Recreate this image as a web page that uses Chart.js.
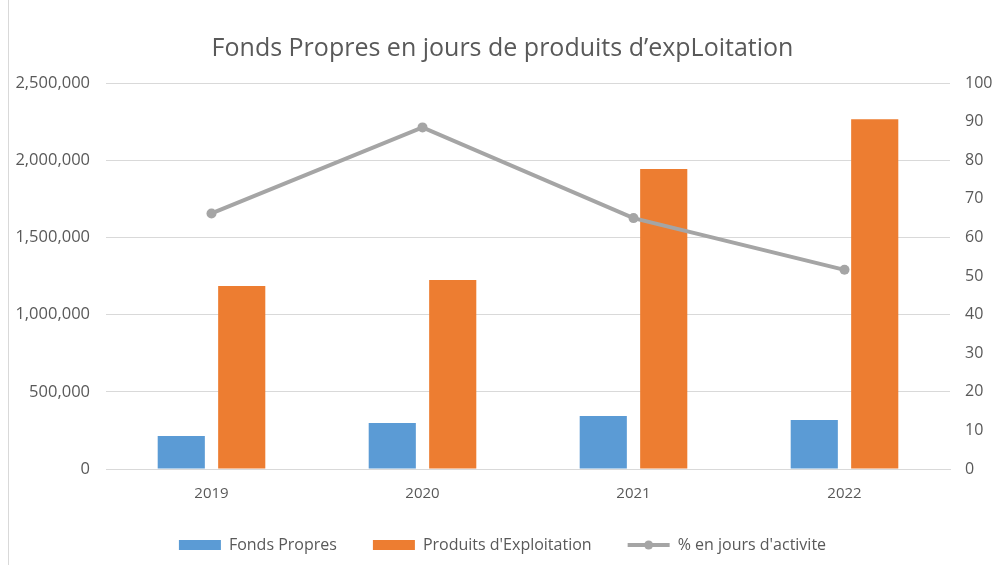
<!DOCTYPE html>
<html>
<head>
<meta charset="utf-8">
<script src="https://cdn.jsdelivr.net/npm/chart.js@4"></script>
<style>
  html, body { margin: 0; padding: 0; background: #fff; }
  #wrap { position: relative; width: 995px; height: 565px; }
  #edge { position: absolute; left: 8px; top: 0; width: 1px; height: 565px; background: #d9d9d9; }
</style>
</head>
<body>
<div id="wrap">
  <div id="edge"></div>
  <canvas id="chart" width="995" height="565"></canvas>
</div>
<script>
const years = ["2019", "2020", "2021", "2022"];
const fondsPropres = [214000, 298000, 343000, 318000];
const produitsExploitation = [1185000, 1224000, 1943000, 2265000];
const joursActivite = [66.2, 88.5, 65.0, 51.6];

const grey = "#595959";
const lineGrey = "#a5a5a5";
const font = "'Open Sans', sans-serif";

Chart.defaults.font.family = font;
Chart.defaults.color = grey;

// little dot on the line legend entry, like the Excel legend
const legendDot = {
    id: "legendDot",
    afterDraw(chart) {
        const lg = chart.legend;
        if (!lg || !lg.legendHitBoxes) return;
        const box = lg.legendHitBoxes[2];
        if (!box) return;
        const ctx = chart.ctx;
        ctx.save();
        ctx.fillStyle = lineGrey;
        ctx.beginPath();
        ctx.arc(box.left + 21, box.top + box.height / 2, 4.5, 0, Math.PI * 2);
        ctx.fill();
        ctx.restore();
    }
};

new Chart(document.getElementById("chart"), {
    type: "bar",
    data: {
        labels: years,
        datasets: [
            {
                label: "Fonds Propres",
                data: fondsPropres,
                backgroundColor: "#5b9bd5",
                pointStyle: "rect",
                yAxisID: "y",
                order: 2
            },
            {
                label: "Produits d'Exploitation",
                data: produitsExploitation,
                backgroundColor: "#ed7d31",
                pointStyle: "rect",
                yAxisID: "y",
                order: 2
            },
            {
                type: "line",
                label: "% en jours d'activite",
                data: joursActivite,
                borderColor: lineGrey,
                backgroundColor: lineGrey,
                borderWidth: 4,
                pointStyle: "circle",
                pointRadius: 5,
                pointBackgroundColor: lineGrey,
                pointBorderWidth: 0,
                yAxisID: "y1",
                order: 1
            }
        ]
    },
    options: {
        responsive: false,
        animation: false,
        layout: { padding: { left: 10, right: 0, top: 34, bottom: 2 } },
        datasets: {
            bar: { categoryPercentage: 0.573, barPercentage: 0.78 }
        },
        plugins: {
            title: {
                display: true,
                text: "Fonds Propres en jours de produits d\u2019expLoitation",
                font: { size: 25, weight: "normal", family: font },
                color: grey,
                padding: { top: 0, bottom: 19 }
            },
            legend: {
                position: "bottom",
                labels: {
                    usePointStyle: true,
                    pointStyleWidth: 42,
                    boxHeight: 10,
                    padding: 36,
                    font: { size: 16 },
                    color: grey,
                    sort: (a, b) => a.datasetIndex - b.datasetIndex,
                    generateLabels: chart => {
                        const items = Chart.defaults.plugins.legend.labels.generateLabels(chart);
                        items.forEach(it => {
                            if (it.datasetIndex === 2) {
                                it.pointStyle = "line";
                                it.lineWidth = 4;
                                it.strokeStyle = lineGrey;
                            }
                        });
                        return items;
                    }
                }
            },
            tooltip: { enabled: false }
        },
        scales: {
            x: {
                grid: { display: false },
                border: { color: "#d9d9d9" },
                ticks: { font: { size: 15 }, color: grey, padding: 8 },
                afterFit: s => { s.height -= 10; }
            },
            y: {
                position: "left",
                min: 0,
                max: 2500000,
                border: { display: false },
                grid: { color: "#d9d9d9", drawTicks: false },
                ticks: {
                    stepSize: 500000,
                    font: { size: 16.5 },
                    color: grey,
                    padding: 16,
                    callback: v => v.toLocaleString("en-US")
                },
                afterFit: s => { s.width = 96; }
            },
            y1: {
                position: "right",
                min: 0,
                max: 100,
                border: { display: false },
                grid: { display: false, drawTicks: false },
                ticks: {
                    stepSize: 10,
                    font: { size: 16 },
                    color: grey,
                    padding: 15
                },
                afterFit: s => { s.width = 45; }
            }
        }
    },
    plugins: [legendDot]
});
</script>
</body>
</html>
